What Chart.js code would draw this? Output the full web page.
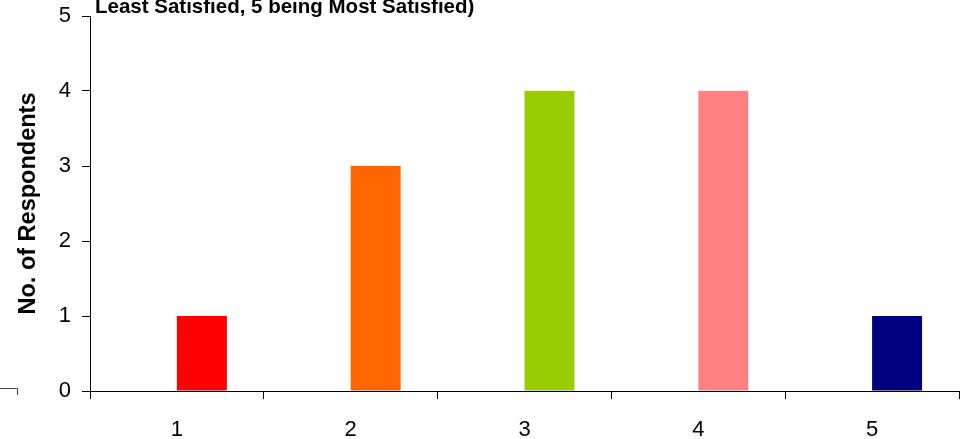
<!DOCTYPE html>
<html>
<head>
<meta charset="utf-8">
<title>Satisfaction rating</title>
<script src="https://cdn.jsdelivr.net/npm/chart.js@4/dist/chart.umd.min.js"></script>
<style>
  html, body { margin: 0; padding: 0; background: #fff; }
  #wrap { width: 967px; height: 439px; position: relative; }
</style>
</head>
<body>
<div id="wrap"><canvas id="ratingChart"></canvas></div>
<script>
// Rating scale (1 = least satisfied, 5 = most satisfied)
const ratings = ['1', '2', '3', '4', '5'];
const respondents = [1, 3, 4, 4, 1];
const barColors = ['#FF0000', '#FF6600', '#99CC00', '#FF8080', '#000080'];
// empty series that sits before the real one, so bars land right of centre
const spacer = [null, null, null, null, null];

const yTicks = [0, 1, 2, 3, 4, 5];

const titleText = 'Least Satisfied, 5 being Most Satisfied)';
const yTitle = 'No. of Respondents';

const FONT = "'Liberation Sans', Arial, sans-serif";

// title line + small leftover border bit at bottom-left
const extras = {
  id: 'extras',
  afterDraw(chart) {
    const ctx = chart.ctx;
    const area = chart.chartArea;
    ctx.save();
    ctx.fillStyle = '#000';
    ctx.font = 'bold 20.5px ' + FONT;
    ctx.textBaseline = 'alphabetic';
    ctx.textAlign = 'left';
    ctx.fillText(titleText, area.left + 5, 12.5);

    ctx.strokeStyle = '#444';
    ctx.lineWidth = 1;
    ctx.beginPath();
    ctx.moveTo(0, 388.5);
    ctx.lineTo(17.5, 388.5);
    ctx.lineTo(17.5, 395);
    ctx.stroke();
    ctx.restore();
  }
};

new Chart(document.getElementById('ratingChart'), {
  type: 'bar',
  data: {
    labels: ratings,
    datasets: [
      { label: 'spacer', data: spacer, backgroundColor: 'rgba(0,0,0,0)' },
      { label: 'Respondents', data: respondents, backgroundColor: barColors, borderWidth: 0 }
    ]
  },
  options: {
    responsive: true,
    maintainAspectRatio: false,
    animation: false,
    categoryPercentage: 0.575,
    barPercentage: 1,
    layout: { padding: { top: 16, right: 8, bottom: 0, left: 0 } },
    plugins: {
      legend: { display: false },
      tooltip: { enabled: false }
    },
    scales: {
      x: {
        offset: true,
        grid: { offset: true, drawOnChartArea: false, tickLength: 8, color: '#000' },
        border: { color: '#000', width: 1 },
        ticks: { color: '#000', font: { family: FONT, size: 22 }, padding: 18, maxRotation: 0 },
        afterFit(scale) {
          scale.height = 48;
          scale.paddingLeft = 0;
          scale.paddingRight = 0;
        }
      },
      y: {
        min: 0,
        max: 5,
        afterBuildTicks(scale) { scale.ticks = yTicks.map(v => ({ value: v })); },
        grid: { drawOnChartArea: false, tickLength: 8, color: '#000' },
        border: { color: '#000', width: 1 },
        ticks: { color: '#000', font: { family: FONT, size: 22 }, padding: 11 },
        title: {
          display: true,
          text: yTitle,
          color: '#000',
          font: { family: FONT, size: 23.5, weight: 'bold' },
          padding: { top: 14, bottom: 0 }
        },
        afterFit(scale) {
          scale.width = 90;
          scale.paddingTop = 0;
          scale.paddingBottom = 0;
        }
      }
    }
  },
  plugins: [extras]
});
</script>
</body>
</html>
